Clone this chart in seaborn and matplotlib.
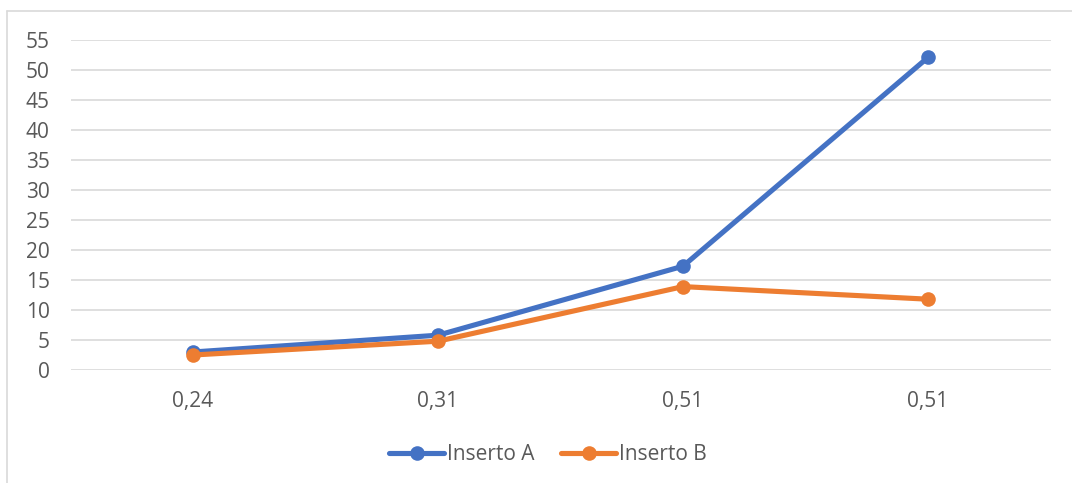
import matplotlib
matplotlib.use("Agg")
import matplotlib.pyplot as plt
from matplotlib.lines import Line2D
import seaborn as sns
import pandas as pd

# Cutting data: feed categories and wear values for two inserts
categories = ["0,24", "0,31", "0,51", "0,51"]
inserto_a = [3.0, 5.8, 17.3, 52.1]
inserto_b = [2.5, 4.8, 13.9, 11.8]
series_names = ["Inserto A", "Inserto B"]
y_ticks = list(range(0, 60, 5))

colors = ["#4472C4", "#ED7D31"]
text_color = "#595959"
grid_color = "#D9D9D9"

sns.set_theme(style="white")
plt.rcParams["font.family"] = ["Open Sans", "DejaVu Sans"]

positions = list(range(len(categories)))
df = pd.DataFrame({
    "pos": positions * 2,
    "valor": inserto_a + inserto_b,
    "serie": [series_names[0]] * len(categories) + [series_names[1]] * len(categories),
})

W, H = 1072, 483
fig = plt.figure(figsize=(W / 100, H / 100), dpi=100)
ax = fig.add_axes([70.5 / W, 1 - 370 / H, 980 / W, 330 / H])

sns.lineplot(data=df, x="pos", y="valor", hue="serie", palette=colors,
             marker="o", markersize=10.5, markeredgewidth=0, linewidth=3.7,
             ax=ax, legend=False, clip_on=False)
for ln in ax.lines:
    ln.set_solid_capstyle("round")
    ln.set_solid_joinstyle("round")

ax.set_xlim(-0.5, len(categories) - 0.5)
ax.set_ylim(0, 55)
ax.set_yticks(y_ticks)
ax.set_yticklabels([str(v) for v in y_ticks])
ax.set_xticks(positions)
ax.set_xticklabels(categories)
ax.set_xlabel("")
ax.set_ylabel("")
ax.tick_params(axis="y", length=0, pad=15, labelsize=15, labelcolor=text_color)
ax.tick_params(axis="x", length=0, pad=15, labelsize=15, labelcolor=text_color)
ax.grid(axis="y", color=grid_color, linewidth=1.2)
ax.set_axisbelow(True)
for s in ax.spines.values():
    s.set_visible(False)

handles = [Line2D([0], [0], color=c, linewidth=3.7, marker="o", markersize=10.5,
                  markeredgewidth=0, solid_capstyle="round") for c in colors]
fig.legend(handles, series_names, loc="center", bbox_to_anchor=(548 / W, 1 - 455 / H),
           ncol=2, frameon=False, fontsize=15, labelcolor=text_color,
           handlelength=2.65, handletextpad=0.15, columnspacing=1.25)

# Chart area frame (top and left edges)
fig.add_artist(Line2D([7 / W, 1], [1 - 11 / H, 1 - 11 / H], transform=fig.transFigure,
                      color=grid_color, linewidth=1.2))
fig.add_artist(Line2D([7 / W, 7 / W], [0, 1 - 11 / H], transform=fig.transFigure,
                      color=grid_color, linewidth=1.2))

fig.savefig("out.png", dpi=100, facecolor="white")
